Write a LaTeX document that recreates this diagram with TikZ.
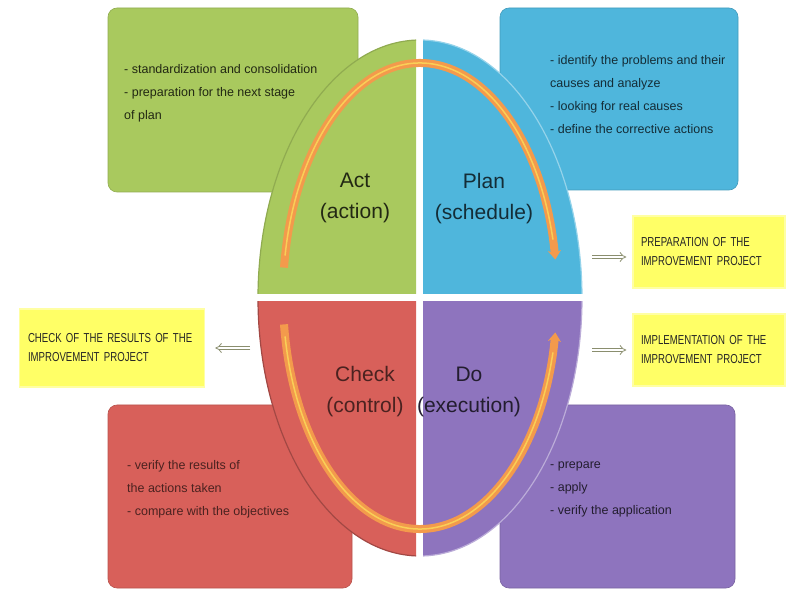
\documentclass[tikz,border=0pt]{standalone}
\usepackage{fontspec}
\setmainfont{Liberation Sans}
\newfontfamily\capsfont[FakeStretch=0.74]{Liberation Sans}
\usetikzlibrary{arrows.meta,positioning}

\definecolor{actgreen}{HTML}{A9C95E}
\definecolor{planblue}{HTML}{4FB6DC}
\definecolor{checkred}{HTML}{D8605A}
\definecolor{dopurple}{HTML}{8E74BE}
\definecolor{noteyellow}{HTML}{FFFF66}
\definecolor{cycleorange}{HTML}{F39A4C}
\definecolor{arrowgrey}{HTML}{8A8E6E}

\begin{document}
\begin{tikzpicture}[x=1pt,y=1pt,
  box/.style={rounded corners=9pt,line width=0.6pt},
  quarter/.style={line width=1.2pt},
  phase/.style={font=\fontsize{21}{31}\selectfont,align=center},
  note/.style={font=\fontsize{12.5}{23}\selectfont,align=left,anchor=north west,inner sep=0pt},
  result/.style={fill=noteyellow,draw=noteyellow!60!white,line width=1.5pt,
    minimum height=72pt,align=left,inner sep=0pt,
    font=\capsfont\fontsize{13}{19}\selectfont,text=black!85},
  cycle/.style={cycleorange,line width=8pt},
  implies/.style={arrowgrey,line width=0.8pt,double distance=2.6pt,-{Implies}}]
\useasboundingbox (0,0) rectangle (788,590);

% boxes behind the circle
\filldraw[box,fill=actgreen,draw=actgreen!85!black] (108,398) rectangle (358,582);
\filldraw[box,fill=planblue,draw=planblue!85!black] (500,400) rectangle (738,582);
\filldraw[box,fill=checkred,draw=checkred!85!black] (108,2) rectangle (352,185);
\filldraw[box,fill=dopurple,draw=dopurple!85!black] (500,2) rectangle (735,185);

% the four quarters of the circle
\begin{scope}
\clip (250,296) rectangle (416,560);
\filldraw[quarter,fill=actgreen,draw=actgreen!85!black] (420,292) ellipse[x radius=162,y radius=258];
\end{scope}
\begin{scope}
\clip (423,296) rectangle (590,560);
\filldraw[quarter,fill=planblue,draw=planblue!60!white] (420,292) ellipse[x radius=162,y radius=258];
\end{scope}
\begin{scope}
\clip (250,288) rectangle (416,20);
\filldraw[quarter,fill=checkred,draw=checkred!75!black] (420,292) ellipse[x radius=162,y radius=258];
\end{scope}
\begin{scope}
\clip (423,288) rectangle (590,20);
\filldraw[quarter,fill=dopurple,draw=dopurple!60!white] (420,292) ellipse[x radius=162,y radius=258];
\end{scope}

% cycle arrows
\coordinate (o) at (420,294);
\draw[cycle,-{Stealth[length=9pt,width=13pt]}] (o) ++(173:137 and 233)
  arc[start angle=173,end angle=9,x radius=137,y radius=233];
\draw[cycle,-{Stealth[length=9pt,width=13pt]}] (o) ++(187:137 and 233)
  arc[start angle=187,end angle=351,x radius=137,y radius=233];
\draw[cycleorange!60!yellow!80!white,line width=1.5pt] (o) ++(170:137 and 233)
  arc[start angle=170,end angle=14,x radius=137,y radius=233];
\draw[cycleorange!60!yellow!80!white,line width=1.5pt] (o) ++(190:137 and 233)
  arc[start angle=190,end angle=346,x radius=137,y radius=233];

% phase names
\node[phase,text=actgreen!20!black] (act) at (355,392) {Act\\(action)};
\node[phase,text=planblue!25!black] (plan) at (484,391) {Plan\\(schedule)};
\node[phase,text=checkred!35!black] (check) at (365,198) {Check\\(control)};
\node[phase,text=dopurple!25!black] (do) at (469,198) {Do\\(execution)};

% notes in the boxes
\node[note,text=actgreen!20!black] (actnote) at (124,526)
  {- standardization and consolidation\\- preparation for the next stage\\of plan};
\node[note,text=planblue!25!black] (plannote) at (550,535)
  {- identify the problems and their\\causes and analyze\\- looking for real causes\\- define the corrective actions};
\node[note,text=checkred!35!black] (checknote) at (127,130)
  {- verify the results of\\the actions taken\\- compare with the objectives};
\node[note,text=dopurple!25!black] (donote) at (550,128)
  {- prepare\\- apply\\- verify the application};

% yellow results
\node[result,minimum width=152pt,text width=136pt] (prep) at (709,338)
  {PREPARATION OF THE\\IMPROVEMENT PROJECT};
\node[result,minimum width=152pt,text width=136pt] (impl) at (709,240)
  {IMPLEMENTATION OF THE\\IMPROVEMENT PROJECT};
\node[result,minimum width=185pt,text width=168pt,minimum height=78pt] (chk) at (112,242)
  {CHECK OF THE RESULTS OF THE\\IMPROVEMENT PROJECT};

\draw[implies] ([xshift=-40pt,yshift=-5pt]prep.west) -- ([xshift=-6pt,yshift=-5pt]prep.west);
\draw[implies] ([xshift=-40pt]impl.west) -- ([xshift=-6pt]impl.west);
\draw[implies] ([xshift=45pt]chk.east) -- ([xshift=10pt]chk.east);
\end{tikzpicture}
\end{document}
